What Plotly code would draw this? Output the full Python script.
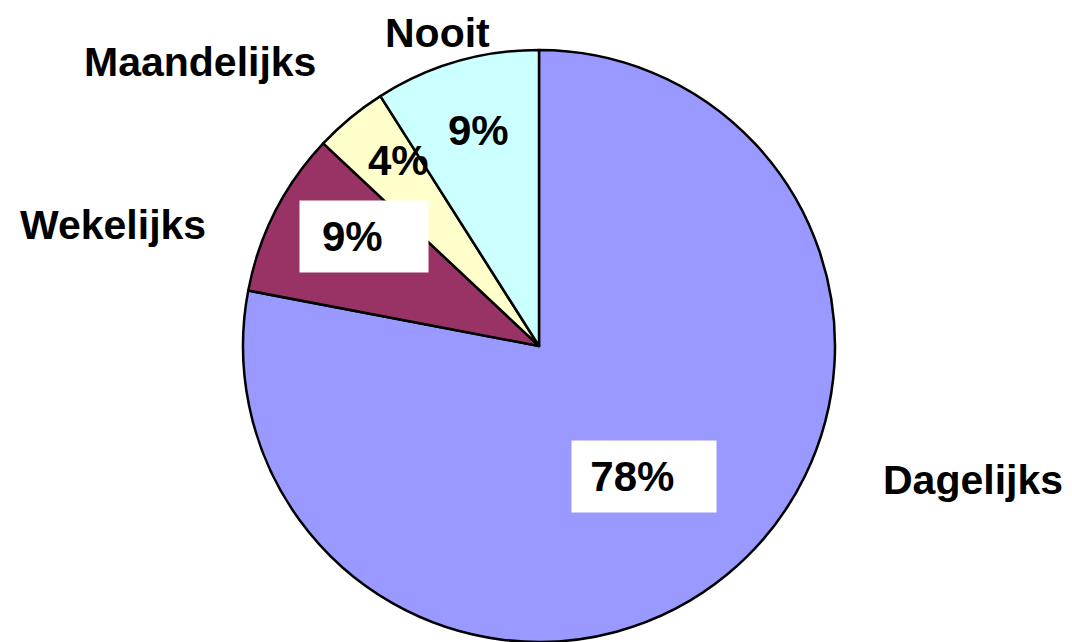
import plotly.graph_objects as go

categories = ["Dagelijks", "Wekelijks", "Maandelijks", "Nooit"]
values = [78, 9, 4, 9]
colors = ["#9999FF", "#993366", "#FFFFCC", "#CCFFFF"]

W, H = 1072, 642
OFF = 8  # page body margin
FONT = "Arial, Liberation Sans, sans-serif"


def px(x, y):
    return (x - OFF) / W, 1 - (y - OFF) / H


fig = go.Figure(go.Pie(
    labels=categories,
    values=values,
    sort=False,
    direction="clockwise",
    rotation=0,
    textinfo="none",
    hoverinfo="label+percent",
    marker=dict(colors=colors, line=dict(color="black", width=2.5)),
    domain=dict(x=[(243 - OFF) / W, (835 - OFF) / W],
                y=[OFF / H, 1 - (50 - OFF) / H]),
    showlegend=False,
))

# category names outside the pie
name_pos = {
    "Dagelijks": (973, 480),
    "Wekelijks": (113, 225),
    "Maandelijks": (200, 62),
    "Nooit": (437, 33),
}
for cat in categories:
    x, y = px(*name_pos[cat])
    fig.add_annotation(x=x, y=y, xref="paper", yref="paper", text=cat,
                       showarrow=False, xanchor="center", yanchor="middle",
                       font=dict(family=FONT, size=41, color="black", weight="bold"))

# percentage labels (some on white boxes, text sits left of centre there)
total = sum(values)
pct_pos = {
    "Dagelijks": ((644, 476.5), 144, True),
    "Wekelijks": ((364, 236.5), 128, True),
    "Maandelijks": ((398, 161), None, False),
    "Nooit": ((478, 130), None, False),
}
for cat, v in zip(categories, values):
    (x, y), w, boxed = pct_pos[cat]
    xx, yy = px(x, y)
    label = f"{round(100 * v / total)}%"
    kw = {}
    if boxed:
        kw = dict(bgcolor="white", width=w, height=71, borderpad=0)
        label += "&nbsp;&nbsp;"
    fig.add_annotation(x=xx, y=yy, xref="paper", yref="paper",
                       text=label, showarrow=False,
                       xanchor="center", yanchor="middle",
                       font=dict(family=FONT, size=42, color="black", weight="bold"), **kw)

fig.update_layout(
    width=W, height=H,
    margin=dict(l=0, r=0, t=0, b=0),
    paper_bgcolor="white",
    plot_bgcolor="white",
)

fig.write_html("out.html")
